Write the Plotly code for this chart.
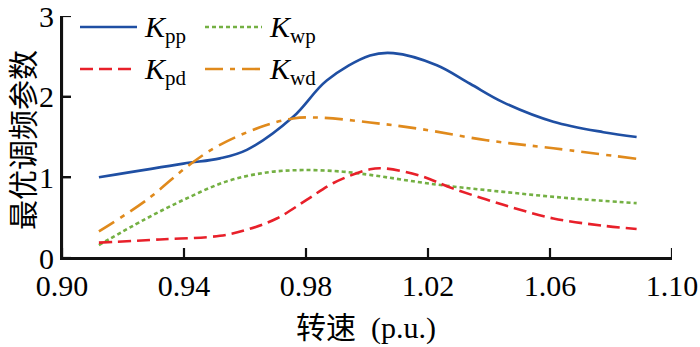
import plotly.graph_objects as go

# Rotor speed (p.u.) sample points for each optimal gain curve
speed_pp = [0.9121, 0.9398, 0.9518, 0.9606, 0.9758, 0.9868, 1.0010, 1.0086, 1.0229, 1.0338, 1.0447, 1.0611, 1.0775, 1.0884]
k_pp = [1.00, 1.17, 1.235, 1.34, 1.75, 2.20, 2.51, 2.54, 2.39, 2.16, 1.93, 1.69, 1.56, 1.50]

speed_wp = [0.9121, 0.9267, 0.9398, 0.9540, 0.9671, 0.9791, 0.9922, 1.0010, 1.0229, 1.0447, 1.0666, 1.0884]
k_wp = [0.16, 0.47, 0.72, 0.95, 1.06, 1.09, 1.07, 1.03, 0.91, 0.82, 0.74, 0.68]

speed_pd = [0.9121, 0.9321, 0.9518, 0.9606, 0.9704, 0.9802, 0.9890, 1.0010, 1.0060, 1.0174, 1.0283, 1.0447, 1.0611, 1.0775, 1.0884]
k_pd = [0.19, 0.23, 0.275, 0.35, 0.49, 0.72, 0.93, 1.10, 1.11, 1.02, 0.86, 0.66, 0.49, 0.40, 0.36]

speed_wd = [0.9121, 0.9278, 0.9409, 0.9507, 0.9649, 0.9758, 0.9846, 1.0010, 1.0174, 1.0392, 1.0611, 1.0884]
k_wd = [0.33, 0.72, 1.13, 1.38, 1.62, 1.73, 1.74, 1.68, 1.60, 1.46, 1.36, 1.23]

x_ticks = [0.90, 0.94, 0.98, 1.02, 1.06, 1.10]
x_tick_text = ["0.90", "0.94", "0.98", "1.02", "1.06", "1.10"]
y_ticks = [0, 1, 2, 3]

series = [
    ("pp", speed_pp, k_pp, "#1f4fa3", "solid"),
    ("wp", speed_wp, k_wp, "#74b043", "4px,3px"),
    ("pd", speed_pd, k_pd, "#e8202a", "13px,6px"),
    ("wd", speed_wd, k_wd, "#e08a1c", "18px,7px,5px,7px"),
]

SERIF = "Liberation Serif, Times New Roman, serif"
CJK = "Noto Sans CJK SC, sans-serif"
AXIS = "#111111"

fig = go.Figure()
for name, xs, ys, color, dash in series:
    fig.add_trace(go.Scatter(
        x=xs, y=ys, mode="lines", name=name,
        line=dict(color=color, width=2.6, dash=dash, shape="spline", smoothing=1.0),
        showlegend=False,
    ))

# Page geometry (pixels) used to place the legend, frame and axis titles
W, H = 700, 347
ML, MR, MT, MB = 62, 28, 16, 89
pw, ph = W - ML - MR, H - MT - MB

def px(xp):
    return (xp - ML) / pw

def py(yp):
    return 1 - (yp - MT) / ph

# L-shaped frame with inward tick marks at the axis tick values
frame = dict(color=AXIS, width=2.2)
fig.add_shape(type="line", xref="paper", yref="paper", x0=0, x1=1, y0=0, y1=0, line=frame)
fig.add_shape(type="line", xref="paper", yref="paper", x0=0, x1=0, y0=0, y1=1, line=frame)
for t in x_ticks:
    fig.add_shape(type="line", xref="x", yref="paper", x0=t, x1=t, y0=0, y1=10 / ph, line=frame)
for t in y_ticks:
    fig.add_shape(type="line", xref="paper", yref="y", x0=0, x1=9 / pw, y0=t, y1=t, line=frame)

# Two-column legend
legend_pos = {"pp": (80, 27), "wp": (205, 27), "pd": (80, 69), "wd": (205, 69)}
for name, xs, ys, color, dash in series:
    lx, ly = legend_pos[name]
    fig.add_shape(type="line", xref="paper", yref="paper",
                  x0=px(lx), x1=px(lx + 57), y0=py(ly), y1=py(ly),
                  line=dict(color=color, width=2.6, dash=dash))
    fig.add_annotation(xref="paper", yref="paper", x=px(lx + 62), y=py(ly + 2),
                       xanchor="left", yanchor="middle", showarrow=False,
                       text=f"<i>K</i><sub>{name}</sub>",
                       font=dict(family=SERIF, size=30, color="black"))

# Axis titles
fig.add_annotation(xref="paper", yref="paper", x=px(21), y=py(140),
                   xanchor="center", yanchor="middle", showarrow=False, textangle=-90,
                   text="最优调频参数", font=dict(family=CJK, size=30, color="black"))
fig.add_annotation(xref="paper", yref="paper", x=px(366), y=py(325),
                   xanchor="center", yanchor="middle", showarrow=False,
                   text="转速<span style=\"font-family:'Liberation Serif'\">\u2002(p.u.)</span>",
                   font=dict(family=CJK, size=30, color="black"))

fig.update_layout(
    width=W, height=H,
    margin=dict(l=ML, r=MR, t=MT, b=MB, autoexpand=False),
    paper_bgcolor="white", plot_bgcolor="white",
    font=dict(family=SERIF, size=30, color="black"),
)
fig.update_xaxes(
    range=[0.90, 1.10], tickvals=x_ticks, ticktext=x_tick_text,
    showline=True, linecolor=AXIS, linewidth=2, layer="above traces",
    ticks="inside", ticklen=10, tickwidth=2, tickcolor=AXIS,
    showgrid=False, zeroline=False, ticklabeloverflow="allow",
    tickfont=dict(family=SERIF, size=30, color="black"),
)
fig.update_yaxes(
    range=[0, 3], tickvals=y_ticks,
    showline=True, linecolor=AXIS, linewidth=2, layer="above traces",
    ticks="inside", ticklen=9, tickwidth=2, tickcolor=AXIS,
    showgrid=False, zeroline=False, ticklabeloverflow="allow",
    tickfont=dict(family=SERIF, size=30, color="black"),
)

fig.write_html("out.html")
